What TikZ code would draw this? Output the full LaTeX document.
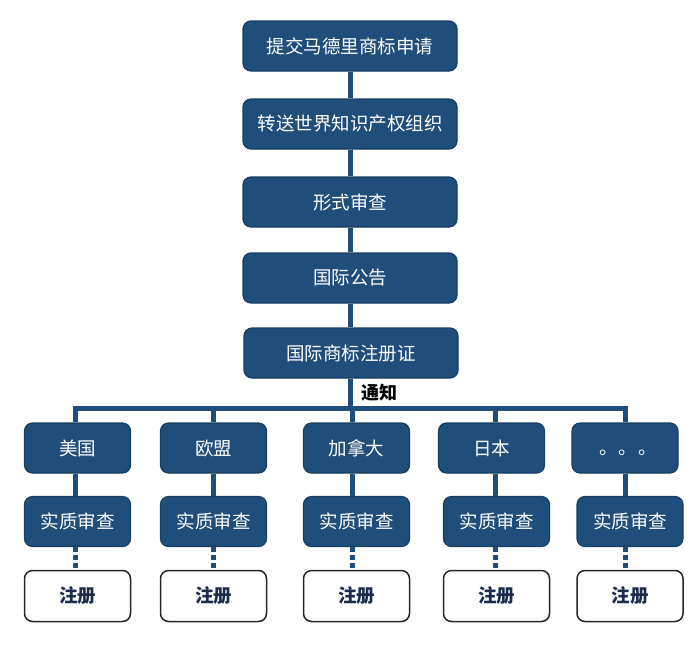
\documentclass[tikz,border=0pt]{standalone}
\usepackage{fontspec}
\setmainfont{Noto Sans CJK SC}
\definecolor{boxblue}{HTML}{1F4E7A}
\definecolor{boxedge}{HTML}{173D60}
\definecolor{regtext}{HTML}{1A2B4C}
\begin{document}
\begin{tikzpicture}[x=1pt,y=-1pt,
  bluebox/.style={draw=boxedge,line width=1.2pt,fill=boxblue,rounded corners=8pt,text=white,
    font=\fontsize{18.5}{21}\selectfont,inner sep=0pt,minimum width=#1,minimum height=50pt},
  bluebox/.default=214pt,
  regbox/.style={draw=black!85,line width=1.5pt,fill=white,rounded corners=8pt,text=regtext,
    font=\fontsize{18.5}{21}\selectfont\bfseries,inner sep=0pt,minimum width=106pt,minimum height=51pt},
  link/.style={draw=boxblue,line width=5pt},
  dotlink/.style={draw=boxblue,line width=5pt,dash pattern=on 4.5pt off 3.5pt}]
\useasboundingbox (0,0) rectangle (700,648);
% main chain
\node[bluebox] (m1) at (350,46) {提交马德里商标申请};
\node[bluebox] (m2) at (350,124) {转送世界知识产权组织};
\node[bluebox] (m3) at (350,202) {形式审查};
\node[bluebox] (m4) at (350,278) {国际公告};
\node[bluebox] (m5) at (351,353) {国际商标注册证};
\draw[link] (m1) -- (m2);
\draw[link] (m2) -- (m3);
\draw[link] (m3) -- (m4);
\draw[link] (m4.south) -- (m4.south |- m5.north);
% bus
\coordinate (b0) at (350,408);
\coordinate (bl) at (75,408);
\coordinate (br) at (625,408);
\draw[link] (m5.south -| b0) -- (b0);
\draw[link,line cap=rect] (bl) -- (br);
\node[font=\fontsize{18}{20}\selectfont\bfseries,anchor=west,inner sep=0pt] (tz) at (361,393) {通知};
% countries
\node[bluebox=106pt] (c1) at (77.5,448) {美国};
\node[bluebox=106pt] (c2) at (213.5,448) {欧盟};
\node[bluebox=106pt] (c3) at (356.5,448) {加拿大};
\node[bluebox=106pt] (c4) at (491.5,448) {日本};
\node[bluebox=106pt] (c5) at (625,448) {\raisebox{-6pt}[0pt][0pt]{\hspace*{6pt}。\hspace*{1pt}。\hspace*{1pt}。}};
% exam
\node[bluebox=106pt] (e1) at (77.5,521.5) {实质审查};
\node[bluebox=106pt] (e2) at (213.5,521.5) {实质审查};
\node[bluebox=106pt] (e3) at (356.5,521.5) {实质审查};
\node[bluebox=106pt] (e4) at (496.5,521.5) {实质审查};
\node[bluebox=106pt] (e5) at (630,521.5) {实质审查};
% register
\node[regbox] (r1) at (77.5,596) {注册};
\node[regbox] (r2) at (213.5,596) {注册};
\node[regbox] (r3) at (356.5,596) {注册};
\node[regbox] (r4) at (496.5,596) {注册};
\node[regbox] (r5) at (630,596) {注册};
% drops
\coordinate (d1) at (75,408);
\coordinate (d2) at (213,408);
\coordinate (d3) at (352,408);
\coordinate (d4) at (495,408);
\coordinate (d5) at (625,408);
\foreach \i in {1,...,5}{
  \draw[link] (d\i) -- (c\i.north -| d\i);
  \draw[link] (c\i.south -| d\i) -- (e\i.north -| d\i);
  \draw[dotlink] (e\i.south -| d\i) -- (r\i.north -| d\i);
}
\end{tikzpicture}
\end{document}
